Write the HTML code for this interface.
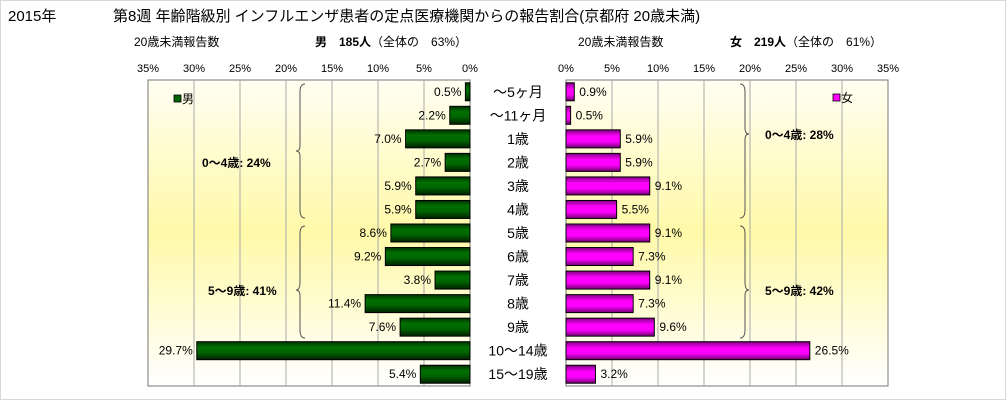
<!DOCTYPE html>
<html><head><meta charset="utf-8"><style>
body{margin:0;background:#fff;}
svg{display:block;font-family:"Liberation Sans","Noto Sans CJK JP",sans-serif;}
</style></head><body>
<svg id="c" width="1006" height="400" viewBox="0 0 1006 400">
<defs>
<linearGradient id="bg" x1="0" y1="0" x2="0" y2="1">
<stop offset="0" stop-color="#fffef2"/><stop offset="0.5" stop-color="#fff9a8"/><stop offset="1" stop-color="#ffffff"/>
</linearGradient>
<linearGradient id="gm" x1="0" y1="0" x2="0" y2="1">
<stop offset="0" stop-color="#003000"/><stop offset="0.3" stop-color="#007000"/><stop offset="0.6" stop-color="#006400"/><stop offset="1" stop-color="#002000"/>
</linearGradient>
<linearGradient id="gf" x1="0" y1="0" x2="0" y2="1">
<stop offset="0" stop-color="#800080"/><stop offset="0.35" stop-color="#ff00ff"/><stop offset="0.65" stop-color="#ff00ff"/><stop offset="1" stop-color="#700070"/>
</linearGradient>
</defs>
<rect x="0.5" y="0.5" width="1005" height="399" fill="#fff" stroke="#d8d8d8"/>
<text x="8" y="21" font-size="15">2015年</text>
<text x="113" y="21" font-size="15">第8週 年齢階級別 インフルエンザ患者の定点医療機関からの報告割合(京都府 20歳未満)</text>
<text x="134" y="46" font-size="12">20歳未満報告数</text>
<text x="315" y="46" font-size="12"><tspan font-weight="bold">男　185人</tspan>（全体の　63%）</text>
<text x="578" y="46" font-size="12">20歳未満報告数</text>
<text x="730" y="46" font-size="12"><tspan font-weight="bold">女　219人</tspan>（全体の　61%）</text>
<g id="L"></g><g id="R"></g><g id="cats"></g>
<rect x="174" y="95" width="7" height="7" fill="#006400" stroke="#000" stroke-width="0.8"/>
<text x="182" y="103" font-size="12">男</text>
<rect x="833" y="94" width="7" height="7" fill="#ff00ff" stroke="#000" stroke-width="0.8"/>
<text x="841" y="102" font-size="12">女</text>
<g fill="none" stroke="#555" stroke-width="1">
<path d="M305,84 Q300,84 300,92 L300,146 Q300,151 296,151 Q300,151 300,156 L300,210 Q300,218 305,218"/>
<path d="M305,226 Q300,226 300,234 L300,282 Q300,290 296,290 Q300,290 300,296 L300,330 Q300,338 305,338"/>
<path d="M740,84 Q745,84 745,92 L745,128 Q745,134 749,134 Q745,134 745,140 L745,210 Q745,218 740,218"/>
<path d="M740,226 Q745,226 745,234 L745,282 Q745,290 749,290 Q745,290 745,296 L745,330 Q745,338 740,338"/>
</g>
<text x="202" y="167" font-size="12" font-weight="bold">0～4歳: 24%</text>
<text x="208" y="295" font-size="12" font-weight="bold">5～9歳: 41%</text>
<text x="765" y="139" font-size="12" font-weight="bold">0～4歳: 28%</text>
<text x="765" y="295" font-size="12" font-weight="bold">5～9歳: 42%</text>
</svg>
<script>
const categories=["～5ヶ月","～11ヶ月","1歳","2歳","3歳","4歳","5歳","6歳","7歳","8歳","9歳","10～14歳","15～19歳"];
const maleValues=[0.5,2.2,7.0,2.7,5.9,5.9,8.6,9.2,3.8,11.4,7.6,29.7,5.4];
const femaleValues=[0.9,0.5,5.9,5.9,9.1,5.5,9.1,7.3,9.1,7.3,9.6,26.5,3.2];
const tickValues=[0,5,10,15,20,25,30,35];
const NS="http://www.w3.org/2000/svg";
const top0=80,bot0=386,rowH=(bot0-top0)/categories.length,barH=18;
const pxPer=322/35;
const xL=v=>470-v*pxPer, xR=v=>566+v*pxPer, yC=i=>top0+rowH*(i+0.5);
function mk(tag,attrs,parent){const e=document.createElementNS(NS,tag);for(const k in attrs)e.setAttribute(k,attrs[k]);parent.appendChild(e);return e;}
function panel(g,xf,vals,fill,side){
  let r=mk('rect',{x:Math.min(xf(0),xf(35)),y:top0,width:322,height:bot0-top0,fill:'url(#bg)',stroke:'#777'},g);
  
  
  tickValues.forEach(t=>{
    if(t>0&&t<35){let l=mk('line',{x1:xf(t),x2:xf(t),y1:top0,y2:bot0,stroke:'#aaa'},g);
    
    }
    let tx=mk('text',{x:xf(t),y:72,'font-size':11,'text-anchor':'middle'},g);
    tx.textContent=t+'%';
    
    
  });
  vals.forEach((v,i)=>{
    const x=Math.min(xf(0),xf(v)),w=Math.abs(xf(v)-xf(0));
    let b=mk('rect',{x:x,y:yC(i)-barH/2,width:w,height:barH,fill:fill,stroke:'#000','stroke-width':1},g);
    
    
    let lb=mk('text',{x:side==='male'?xf(v)-4:xf(v)+5,y:yC(i)+4,'font-size':12,'text-anchor':side==='male'?'end':'start'},g);
    lb.textContent=v.toFixed(1)+'%';
    
    
  });
}
panel(document.getElementById('L'),xL,maleValues,'url(#gm)','male');
panel(document.getElementById('R'),xR,femaleValues,'url(#gf)','female');
const cg=document.getElementById('cats');
categories.forEach((c,i)=>{
  let t=mk('text',{x:518,y:yC(i)+5,'font-size':14,'text-anchor':'middle'},cg);
  t.textContent=c;
  
  
});
</script>
</body></html>
